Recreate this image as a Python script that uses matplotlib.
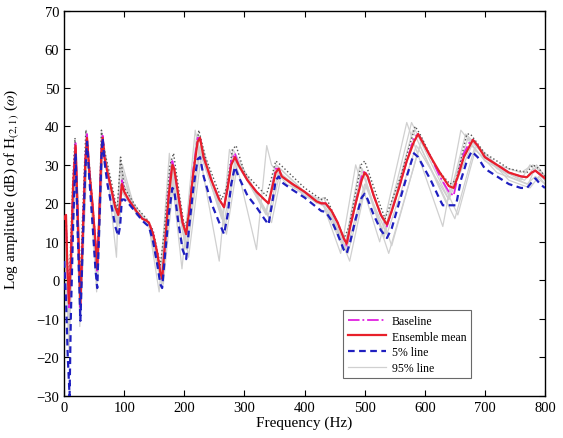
import matplotlib
matplotlib.use("Agg")
import matplotlib.pyplot as plt

plt.rcParams['font.family'] = ['Liberation Serif', 'DejaVu Serif']
plt.rcParams['mathtext.fontset'] = 'stix'

# ---- data (frequency in Hz, amplitude in dB) ----
mean_f = [0, 3, 5, 8, 11, 15, 19, 22, 27, 31, 35, 38, 42, 47, 52, 55, 58, 62, 64, 67, 72, 78, 85, 90, 93, 96, 100, 107, 120, 130, 137, 141, 148, 155, 160, 163, 168, 174, 180, 183, 190, 197, 203, 208, 215, 222, 226, 232, 245, 258, 266, 272, 278, 284, 290, 305, 320, 333, 340, 346, 352, 357, 362, 380, 400, 420, 428, 435, 445, 455, 465, 470, 476, 485, 495, 500, 505, 515, 527, 537, 545, 557, 570, 582, 589, 596, 610, 625, 640, 648, 655, 665, 675, 680, 688, 700, 720, 740, 760, 770, 778, 784, 792, 800]
mean_db = [16, 17, 5, -6, 5, 25, 35, 20, -6, 12, 30, 37, 28, 20, 10, 3, 15, 33, 37, 32, 28, 24, 19, 17, 20, 25, 23, 21, 18, 16, 15.5, 15, 12, 7, 2, 0.5, 10, 22, 30, 29, 22, 15, 12, 18, 28, 36, 37, 32, 26, 21, 19, 24, 30, 32, 30, 26, 23, 21, 20, 24, 28, 29, 27, 25, 23, 20.5, 20, 20, 18, 15, 11, 9.5, 14, 20, 26, 28, 27, 22, 17, 14.5, 18, 24, 31, 36, 38, 36, 32, 28, 24.5, 24, 27, 32, 35, 36.5, 35, 32, 30, 28, 27, 26.8, 28, 28.5, 27.5, 26.5]

base_db = [16, 17, 4, -7, 5, 26, 36, 20, -7, 12, 31, 38, 28, 20, 10, 2, 15, 34, 38, 32, 28, 24, 19, 17, 21, 26, 23, 21, 18, 16, 15.5, 15, 12, 7, 2, 0, 10, 23, 31, 29, 22, 15, 12, 18, 29, 37, 37, 32, 26, 21, 19, 24, 31, 33, 30, 26, 23, 21, 20, 24, 29, 29, 27, 25, 23, 20.5, 20, 20, 18, 15, 11, 9, 14, 20, 27, 28.5, 27, 22, 17, 14, 18, 24, 31, 37, 38, 36, 32, 27, 23, 22, 27, 33, 36, 36.5, 35, 32, 30, 28, 27, 26.8, 28, 28.5, 27.5, 26.5]

p5_f = [0, 3, 6, 9, 11, 15, 19, 22, 27, 31, 35, 38, 42, 47, 52, 55, 58, 62, 64, 67, 72, 78, 85, 90, 93, 96, 100, 107, 120, 130, 137, 141, 148, 155, 160, 163, 168, 174, 180, 183, 190, 197, 203, 208, 215, 222, 226, 232, 245, 258, 266, 272, 278, 284, 290, 305, 320, 333, 340, 346, 352, 357, 362, 380, 400, 420, 428, 435, 445, 455, 465, 470, 476, 485, 495, 500, 505, 515, 527, 537, 545, 557, 570, 582, 589, 596, 610, 625, 630, 652, 660, 670, 678, 688, 700, 720, 740, 760, 770, 778, 784, 792, 800]
p5_db = [5, -5, -20, -30, -10, 15, 33, 15, -10.5, 10, 28, 36, 26, 15, 3, -2, 12, 32, 37, 31, 25, 20, 14, 11.5, 14, 21, 21, 20, 17.5, 15.5, 14.5, 14, 10, 4, -1, -2, 7, 17, 24, 23.5, 15, 8, 5.5, 14, 24, 31.5, 32, 27, 20, 15, 12, 17, 25, 29.5, 27, 22, 19, 16, 14.5, 20, 26, 27, 25.5, 23.5, 21.5, 19, 18, 17.8, 15.5, 12, 8, 7, 10, 16, 21.5, 22.5, 21, 17, 13, 11, 13.5, 20, 27, 33, 32, 30, 26, 21, 19.5, 19.5, 26, 31, 33.5, 32, 29, 27, 25, 24, 24, 25.5, 26.5, 25, 24]

up_f = [0, 4, 8, 14, 18, 22, 26, 30, 36, 42, 50, 54, 58, 62, 68, 78, 88, 94, 100, 120, 137, 148, 160, 166, 176, 182, 192, 200, 208, 220, 224, 235, 262, 270, 280, 286, 300, 336, 344, 352, 360, 400, 428, 436, 466, 474, 494, 500, 520, 534, 560, 584, 592, 620, 642, 652, 670, 676, 700, 740, 770, 780, 790, 800]
up_db = [18, 12, -4, 25, 37, 22, -4, 14, 39, 30, 15, 5, 16, 39, 33, 26, 18, 32, 24, 19, 16, 13, 4, 12, 30, 33, 22, 14, 17, 34, 39, 32, 21, 24, 34, 35, 28, 22, 26, 31, 30, 24, 21, 21.5, 11, 14, 30, 31, 22, 16, 27, 40, 38, 29, 25, 26, 38, 38, 33, 29, 28, 30, 29, 27]

g1_f = [0, 8, 18, 26, 37, 54, 62, 72, 87, 93, 100, 120, 140, 158, 175, 196, 218, 258, 275, 290, 320, 337, 345, 370, 420, 428, 460, 485, 525, 570, 630, 660, 700, 760, 775, 800]
g1_db = [14, -15, 36, -12, 39, -3, 39, 28, 6, 32, 22, 18, 15, -3, 33, 3, 39, 5, 34, 28, 8, 35, 30, 25, 21, 21, 7, 30, 10, 41, 14, 39, 31, 26, 30, 26]

g2_f = [0, 9, 20, 28, 39, 56, 65, 80, 92, 98, 110, 140, 165, 184, 207, 230, 270, 289, 345, 361, 400, 440, 475, 505, 545, 595, 655, 686, 740, 775, 790, 800]
g2_db = [15, -12, 34, -8, 36, 0, 36, 22, 14, 28, 21, 15, -1, 29, 6, 35, 12, 31, 15, 27, 22, 19, 5, 27, 9, 37, 17, 35, 26, 24, 27, 25]

g3_f = [0, 8, 19, 27, 38, 55, 64, 85, 96, 120, 141, 162, 179, 201, 222, 264, 281, 336, 353, 400, 425, 432, 466, 492, 532, 578, 640, 668, 720, 760, 780, 800]
g3_db = [16, -5, 35, -6, 37, 2, 37, 17, 26, 18, 15, 0, 31, 9, 38, 17, 34, 18, 30, 23, 21, 21.5, 8, 30, 12, 41, 21, 38, 30, 28, 30, 27]

g4_f = [0, 8, 19, 27, 38, 55, 64, 90, 97, 120, 141, 163, 181, 205, 227, 268, 286, 342, 359, 420, 440, 472, 502, 540, 592, 650, 682, 740, 772, 786, 800]
g4_db = [17, -10, 34, -9, 36, 1, 36, 15, 30, 17, 15, -1, 28, 8, 35, 14, 31, 16, 28, 20, 19.5, 7, 25, 7, 35, 16, 34, 27, 25, 30, 27]

g5_f = [0, 8, 19, 27, 38, 55, 64, 88, 96, 120, 141, 162, 180, 203, 224, 266, 284, 340, 356, 400, 435, 470, 500, 537, 586, 640, 678, 720, 770, 784, 800]
g5_db = [12, -18, 34, -9, 37, 0, 37, 14, 23, 17.5, 14.5, -1, 27, 8, 34, 15, 31, 17, 28, 22, 19, 8, 25, 12, 35, 21, 35, 28, 25, 27, 25]

g6_f = [0, 8, 18, 26, 37, 54, 63, 86, 94, 120, 140, 160, 177, 199, 220, 262, 280, 336, 352, 400, 430, 466, 496, 532, 580, 636, 672, 720, 766, 780, 800]
g6_db = [14, -12, 35, -8, 38, 1, 38, 15, 29, 18, 15, 0, 30, 7, 37, 16, 33, 17, 30, 23, 20, 8, 29, 11, 39, 20, 37, 29, 26, 29, 26]

x_ticks = [0, 100, 200, 300, 400, 500, 600, 700, 800]
y_ticks = [-30, -20, -10, 0, 10, 20, 30, 40, 50, 60, 70]

fig = plt.figure(figsize=(5.63, 4.39), dpi=100)
ax = fig.add_axes([0.114, 0.096, 0.854, 0.877])

gray = '#d0d0d0'
samples = [(g1_f, g1_db), (g2_f, g2_db), (g3_f, g3_db), (g4_f, g4_db), (g5_f, g5_db), (g6_f, g6_db)]
for i, (f, d) in enumerate(samples):
    ax.plot(f, d, color=gray, lw=0.9, zorder=1, label='95% line' if i == 0 else None)
ax.plot(up_f, up_db, color='#555555', lw=1.0, ls=':', zorder=2)
ax.plot(mean_f, base_db, color='#e020e0', lw=1.3, ls='-.', zorder=3, label='Baseline')
ax.plot(mean_f, mean_db, color='#e8202a', lw=1.6, zorder=4, label='Ensemble mean')
ax.plot(p5_f, p5_db, color='#1f1fc0', lw=1.6, ls='--', dashes=(3, 2), zorder=5, label='5% line')

ax.set_xlim(0, 800)
ax.set_ylim(-30, 70)
ax.set_xticks(x_ticks)
ax.set_yticks(y_ticks)
ax.tick_params(direction='in', top=True, right=True, labelsize=10.5, length=4)
for s in ax.spines.values():
    s.set_linewidth(1.0)
ax.set_xlabel('Frequency (Hz)', fontsize=11, labelpad=1)
ax.set_ylabel('Log amplitude (dB) of H$_{(2,1)}$ ($\\omega$)', fontsize=11, labelpad=2)
ax.yaxis.set_label_coords(-0.09, 0.54)

h, l = ax.get_legend_handles_labels()
order = [l.index('Baseline'), l.index('Ensemble mean'), l.index('5% line'), l.index('95% line')]
leg = ax.legend([h[i] for i in order], [l[i] for i in order], loc='lower left',
                bbox_to_anchor=(0.568, 0.03), fontsize=8.5, frameon=True, fancybox=False,
                edgecolor='#444444', handlelength=3.2, borderpad=0.4, labelspacing=0.3,
                handletextpad=0.5)
leg.get_frame().set_linewidth(0.8)

fig.savefig('out.png', dpi=100)
